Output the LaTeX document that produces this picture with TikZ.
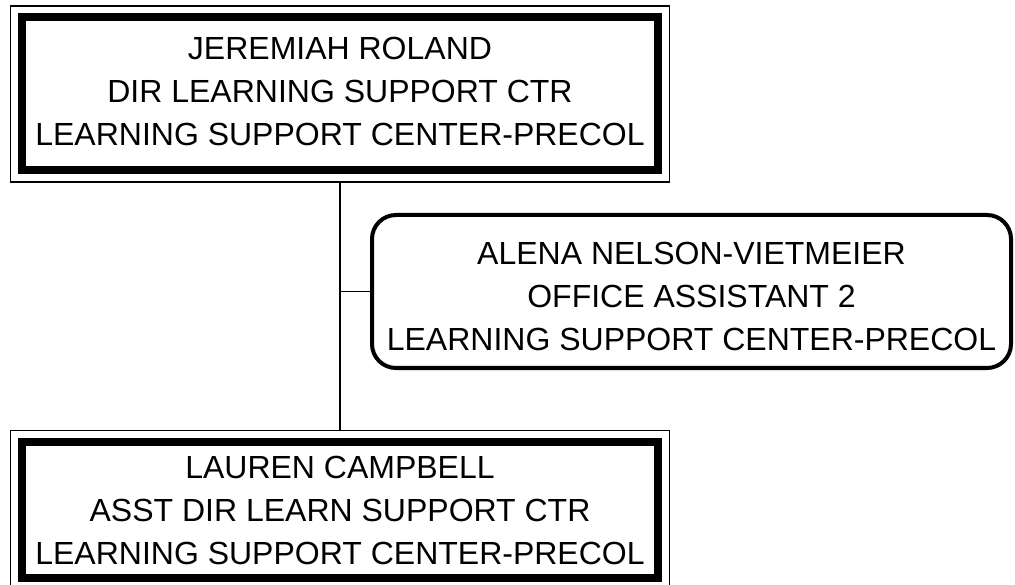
\documentclass[tikz,border=0pt]{standalone}
\usepackage{fontspec}
\setmainfont{Liberation Sans}
\usetikzlibrary{fit}
\begin{document}
\begin{tikzpicture}[x=1pt, y=-1pt, line join=miter,
		font=\fontsize{32}{43}\selectfont,
		headbox/.style={draw, line width=8pt, outer sep=0pt, minimum width=636pt, align=center, inner sep=0pt},
		frame/.style={draw, line width=1.5pt, inner sep=11.5pt},
		staffbox/.style={draw, line width=4pt, rounded corners=24pt, minimum width=639pt, minimum height=153pt, align=center, inner sep=0pt},
		link/.style={line width=1.5pt}]
	\useasboundingbox (0,0) rectangle (1015,585);
	\node[headbox, minimum height=153pt, text depth=6pt] (roland) at (340,94) {JEREMIAH ROLAND\\DIR LEARNING SUPPORT CTR\\LEARNING SUPPORT CENTER-PRECOL};
	\node[frame, fit=(roland)] (rolandframe) {};
	\node[staffbox, text height=119pt] (nelson) at (691.5,291.5) {ALENA NELSON-VIETMEIER\\OFFICE ASSISTANT 2\\LEARNING SUPPORT CENTER-PRECOL};
	\node[headbox, minimum height=136.5pt] (campbell) at (340,510) {LAUREN CAMPBELL\\ASST DIR LEARN SUPPORT CTR\\LEARNING SUPPORT CENTER-PRECOL};
	\node[frame, fit=(campbell)] (campbellframe) {};
	\draw[link] (rolandframe.south) -- (campbellframe.north);
	\draw[link] (nelson.west) -- (nelson.west -| rolandframe.south);
\end{tikzpicture}
\end{document}
